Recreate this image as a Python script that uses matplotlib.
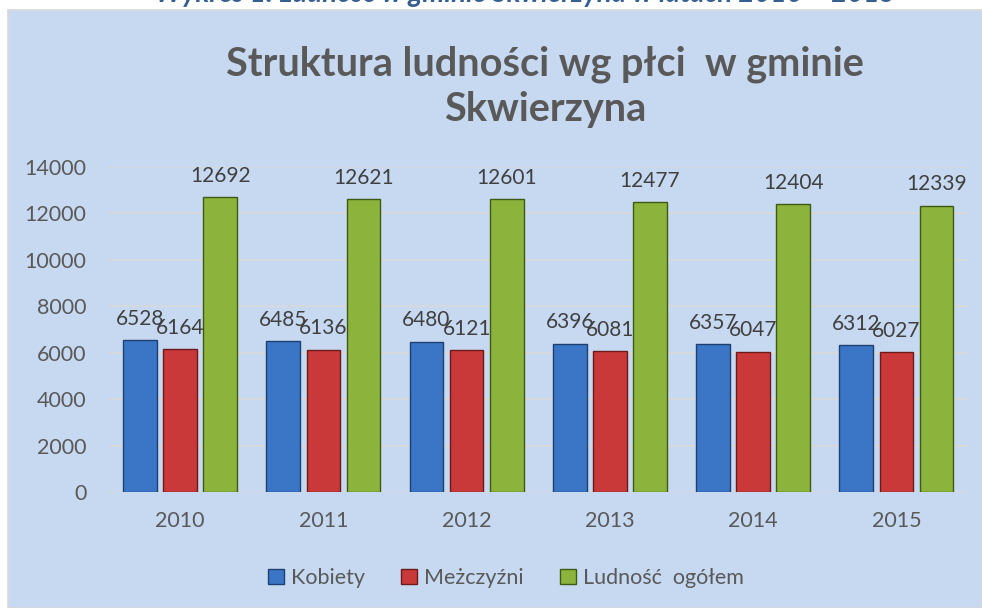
import numpy as np
import matplotlib.pyplot as plt
from matplotlib.patches import Rectangle, Patch

years = ['2010', '2011', '2012', '2013', '2014', '2015']
kobiety = [6528, 6485, 6480, 6396, 6357, 6312]
mezczyzni = [6164, 6136, 6121, 6081, 6047, 6027]
ogolem = [12692, 12621, 12601, 12477, 12404, 12339]
series_names = ['Kobiety', 'Meżczyźni', 'Ludność  ogółem']

plt.rcParams['font.family'] = ['Lato', 'DejaVu Sans']
txt = '#595959'

fig = plt.figure(figsize=(9.82, 6.08), dpi=100)
fig.patch.set_facecolor('white')
# chart panel
fig.patches.append(Rectangle((8 / 982, 0), 1 - 8 / 982, 1 - 10 / 608, transform=fig.transFigure,
                             facecolor='#C6D9F1', edgecolor='#D9D9D9', lw=1.2, zorder=-10))

# clipped caption above the chart
fig.text(0.535, 1 - 2 / 608, 'Wykres 1. Ludność w gminie Skwierzyna w latach 2010 – 2015',
         ha='center', va='baseline', fontsize=20, fontweight='bold', style='italic', color='#365F91')

ax = fig.add_axes([108.5 / 982, 1 - 492 / 608, (968 - 108.5) / 982, (492 - 167) / 608])
ax.set_facecolor('none')

x = np.arange(len(years))
w = 0.235
off = 0.28
colors = ['#3B76C6', '#C9393A', '#8CB43C']
edges = ['#1F3F6E', '#6E1A1A', '#3F5A12']
for i, (vals, c, e) in enumerate(zip([kobiety, mezczyzni, ogolem], colors, edges)):
    bars = ax.bar(x + (i - 1) * off, vals, width=w, color=c, edgecolor=e, lw=1.0, zorder=3)
    for b, v in zip(bars, vals):
        ax.annotate(str(v), (b.get_x() + b.get_width() / 2, v), xytext=(0, 11),
                    textcoords='offset points', ha='center', va='baseline',
                    fontsize=15, color='#404040', zorder=5)

ax.set_xlim(-0.5, len(years) - 0.5)
ax.set_ylim(0, 14000)
ax.set_yticks(np.arange(0, 14001, 2000))
ax.set_xticks(x)
ax.set_xticklabels(years)
ax.tick_params(axis='y', length=0, pad=16, labelsize=15.5, labelcolor=txt)
ax.tick_params(axis='x', length=0, pad=14, labelsize=15.5, labelcolor=txt)
ax.grid(axis='y', color='#D9D9D9', lw=1.2, zorder=1)
for s in ax.spines.values():
    s.set_visible(False)

fig.text(0.555, 1 - 64 / 608, 'Struktura ludności wg płci  w gminie', ha='center', va='center',
         fontsize=28.5, fontweight='bold', color=txt)
fig.text(0.555, 1 - 110 / 608, 'Skwierzyna', ha='center', va='center',
         fontsize=28.5, fontweight='bold', color=txt)

handles = [Patch(facecolor=c, edgecolor=e) for c, e in zip(colors, edges)]
fig.legend(handles, series_names, loc='center', bbox_to_anchor=(0.515, 1 - 578 / 608), ncol=3,
           frameon=False, fontsize=15.5, labelcolor=txt, handlelength=0.75, handleheight=0.75,
           handletextpad=0.3, columnspacing=1.7)

fig.savefig('out.png', dpi=100)
